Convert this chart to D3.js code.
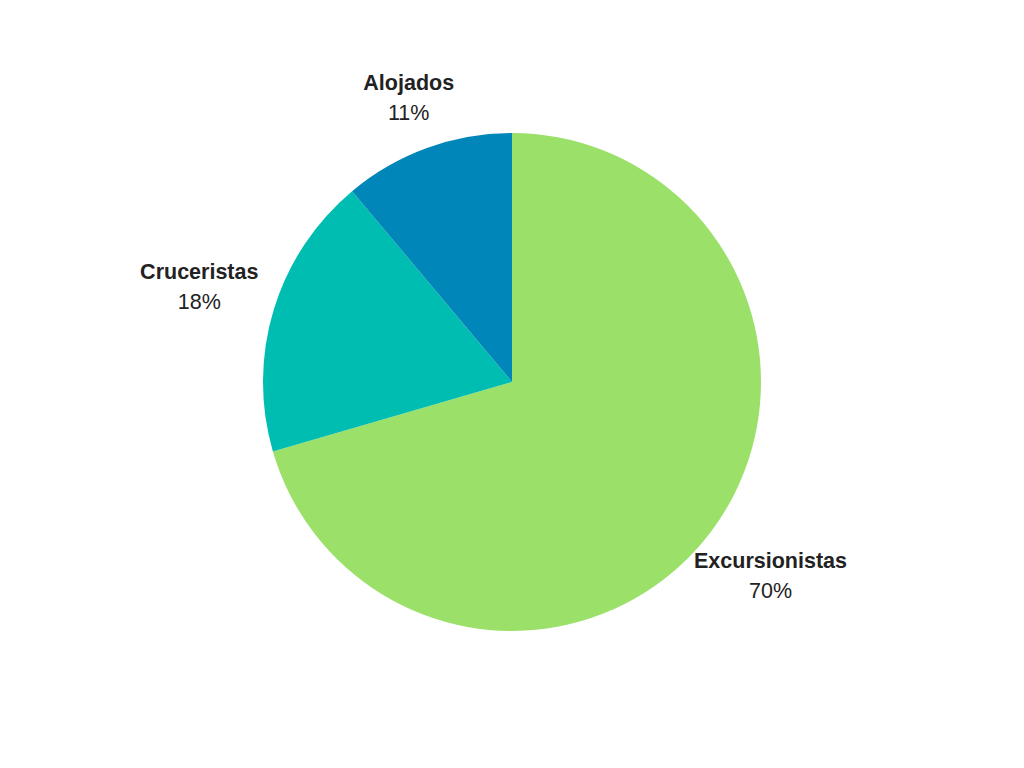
<!DOCTYPE html>
<html>
<head>
<meta charset="utf-8">
<script src="https://cdn.jsdelivr.net/npm/d3@7"></script>
<style>
html,body{margin:0;padding:0;background:#fff;}
svg{display:block;}
</style>
</head>
<body>
<svg id="chart" width="1024" height="768"></svg>
<script>
const categories = ["Excursionistas", "Cruceristas", "Alojados"];
const values = [70.5, 18.4, 11.1];
const percentLabels = ["70%", "18%", "11%"];
const colors = ["#9be169", "#00bdb1", "#0086b8"];

const cx = 512, cy = 382, R = 249, pad = 16, halfH = 35;
const svg = d3.select("#chart");
const g = svg.append("g").attr("transform", `translate(${cx},${cy})`);

const data = categories.map((c, i) => ({name: c, value: values[i], pct: percentLabels[i], color: colors[i]}));
const pie = d3.pie().value(d => d.value).sort(null);
const arc = d3.arc().innerRadius(0).outerRadius(R);
const arcs = pie(data);

g.selectAll("path.slice").data(arcs).enter().append("path")
  .attr("class", "slice")
  .attr("d", arc)
  .attr("fill", d => d.data.color);

const font = "'Liberation Sans', Arial, sans-serif";
arcs.forEach(a => {
  const mid = (a.startAngle + a.endAngle) / 2;
  const s = Math.sin(mid), c = Math.cos(mid);
  const lg = g.append("g");
  lg.append("text").attr("x", 0).attr("y", 0)
    .attr("text-anchor", "middle")
    .attr("font-family", font).attr("font-weight", "bold").attr("font-size", 21.5)
    .attr("fill", "#222").text(a.data.name);
  lg.append("text").attr("x", 0).attr("y", 30)
    .attr("text-anchor", "middle")
    .attr("font-family", font).attr("font-size", 21.5)
    .attr("fill", "#222").text(a.data.pct);
  const bb = lg.node().getBBox();
  const bcx = bb.x + bb.width / 2, bcy = bb.y + bb.height / 2;
  const hw = bb.width / 2;
  const edge = Math.min(Math.abs(s) > 1e-6 ? hw / Math.abs(s) : Infinity,
                        Math.abs(c) > 1e-6 ? halfH / Math.abs(c) : Infinity);
  const d = R + pad + edge;
  const tx = d * s - bcx;
  const ty = -d * c - bcy;
  lg.attr("transform", `translate(${tx},${ty})`);
});
</script>
</body>
</html>
